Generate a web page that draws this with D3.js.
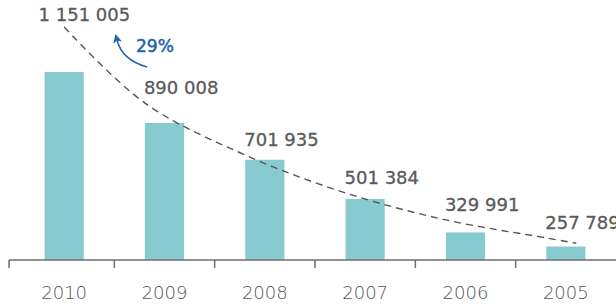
<!DOCTYPE html>
<html>
<head>
<meta charset="utf-8">
<script src="https://cdn.jsdelivr.net/npm/d3@7"></script>
<style>
  html, body { margin: 0; padding: 0; background: #fff; }
  svg { display: block; }
</style>
</head>
<body>
<svg id="chart" width="616" height="307"></svg>
<script>
const years = ["2010", "2009", "2008", "2007", "2006", "2005"];
const values = [1151005, 890008, 701935, 501384, 329991, 257789];
const valueLabels = ["1 151 005", "890 008", "701 935", "501 384", "329 991", "257 789"];
// dashed trend line at each bar's left edge (2010 at its centre)
const trend = [1381000, 992000, 726000, 532000, 394000, 302000];
const growthLabel = "29%";

const svg = d3.select("#chart");
const width = 616,
  height = 307;
const baseY = 260,
  axisStart = 9;

const x = d3
  .scaleBand()
  .domain(years)
  .range([14, width])
  .paddingInner(0.61)
  .paddingOuter(0.305);

const y = d3.scaleLinear().domain([189000, 1151005]).range([baseY, 72]);

const gap = x.step() - x.bandwidth();

// bars
svg
  .selectAll(".bar")
  .data(years)
  .enter()
  .append("rect")
  .attr("class", "bar")
  .attr("x", (d) => x(d))
  .attr("y", (d, i) => y(values[i]))
  .attr("width", x.bandwidth())
  .attr("height", (d, i) => baseY - y(values[i]))
  .attr("fill", "#87cbd1");

// axis line and ticks
svg
  .append("line")
  .attr("x1", axisStart)
  .attr("x2", width)
  .attr("y1", baseY)
  .attr("y2", baseY)
  .attr("stroke", "#6e6e6e")
  .attr("stroke-width", 1.5);

svg
  .selectAll(".tick")
  .data(years)
  .enter()
  .append("line")
  .attr("x1", (d, i) => (i === 0 ? axisStart : x(d) - gap / 2))
  .attr("x2", (d, i) => (i === 0 ? axisStart : x(d) - gap / 2))
  .attr("y1", baseY)
  .attr("y2", baseY + 8)
  .attr("stroke", "#6e6e6e")
  .attr("stroke-width", 1.5);

svg
  .selectAll(".year")
  .data(years)
  .enter()
  .append("text")
  .attr("x", (d) => x(d) + x.bandwidth() / 2)
  .attr("y", 299)
  .attr("text-anchor", "middle")
  .attr("font-family", "DejaVu Sans")
  .attr("font-weight", 200)
  .attr("font-size", "18px")
  .attr("fill", "#555")
  .text((d) => d);

// trend line
const trendPts = years.map((d, i) => [
  i === 0 ? x(d) + x.bandwidth() / 2 : x(d),
  y(trend[i]),
]);
const n = trendPts.length;
const last = trendPts[n - 1],
  prev = trendPts[n - 2];
const ext = 30;
trendPts.push([
  last[0] + ext,
  last[1] + ((last[1] - prev[1]) / (last[0] - prev[0])) * ext,
]);

svg
  .append("path")
  .attr("d", d3.line().curve(d3.curveCatmullRom)(trendPts))
  .attr("fill", "none")
  .attr("stroke", "#555")
  .attr("stroke-width", 1.4)
  .attr("stroke-dasharray", "7,5");

// value labels
svg
  .selectAll(".value")
  .data(years)
  .enter()
  .append("text")
  .attr("x", (d, i) => x(d) - (i === 0 ? 6 : 1))
  .attr("y", (d, i) => y(trend[i]) - (i === 0 ? 6 : 9))
  .attr("font-family", "DejaVu Sans")
  .attr("font-size", "18px")
  .attr("fill", "#5a5a5a")
  .attr("stroke", "#5a5a5a")
  .attr("stroke-width", 0.3)
  .text((d, i) => valueLabels[i]);

// growth annotation
const blue = "#1f64ad";
svg
  .append("defs")
  .append("marker")
  .attr("id", "arrow")
  .attr("viewBox", "0 0 10 10")
  .attr("refX", 3)
  .attr("refY", 5)
  .attr("markerWidth", 10)
  .attr("markerHeight", 9)
  .attr("markerUnits", "userSpaceOnUse")
  .attr("orient", "auto")
  .append("path")
  .attr("d", "M0,0 L10,5 L0,10 L2.5,5 Z")
  .attr("fill", blue);

svg
  .append("path")
  .attr("d", "M147,67 Q122,60 117,40")
  .attr("fill", "none")
  .attr("stroke", blue)
  .attr("stroke-width", 1.5)
  .attr("marker-end", "url(#arrow)");

svg
  .append("text")
  .attr("x", 136)
  .attr("y", 52)
  .attr("font-family", "DejaVu Sans")
  .attr("font-size", "17px")
  .attr("fill", blue)
  .attr("stroke", blue)
  .attr("stroke-width", 0.5)
  .text(growthLabel);
</script>
</body>
</html>
